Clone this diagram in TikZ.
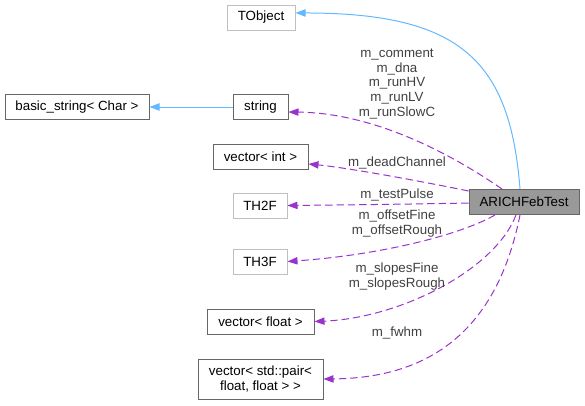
\documentclass[tikz,border=0pt]{standalone}
\usepackage{fontspec}
\setmainfont{Liberation Sans}
\usetikzlibrary{arrows.meta}
\definecolor{edgeblue}{HTML}{63B8FF}
\definecolor{edgepurple}{HTML}{9A32CD}
\definecolor{boxdark}{HTML}{666666}
\definecolor{boxlight}{HTML}{BFBFBF}
\definecolor{mainfill}{HTML}{999999}
\definecolor{labelgrey}{HTML}{404040}
\tikzset{
  box/.style={draw=boxdark, line width=0.75pt, fill=white, inner sep=0pt, minimum height=18.75pt, font=\fontsize{10}{11.5}\selectfont, align=center},
  lightbox/.style={box, draw=boxlight},
  mainbox/.style={box, fill=mainfill},
  inh/.style={draw=edgeblue, line width=0.75pt, -{Triangle[length=7.5pt,width=5.5pt]}},
  dep/.style={draw=edgepurple, line width=0.75pt, dash pattern=on 5.5pt off 3pt, -{Triangle[length=7.5pt,width=5.5pt]}},
  lbl/.style={text=labelgrey, inner sep=0pt, align=center, font=\fontsize{10}{10.9}\selectfont}
}
\begin{document}
\begin{tikzpicture}[x=0.75pt, y=-0.75pt]
\useasboundingbox (0,0) rectangle (585,405);
% nodes
\node[lightbox, minimum width=51pt] (tobj) at (261,17.5) {TObject};
\node[box, minimum width=108pt] (bstr) at (77,107) {basic\_string< Char >};
\node[box, minimum width=41.25pt] (str) at (260.5,107) {string};
\node[box, minimum width=71.25pt] (vint) at (260.5,156.5) {vector< int >};
\node[lightbox, minimum width=40.5pt] (th2) at (260,205.5) {TH2F};
\node[mainbox, minimum width=82.5pt] (main) at (524,202) {ARICHFebTest};
\node[lightbox, minimum width=40.5pt] (th3) at (260,261.5) {TH3F};
\node[box, minimum width=80.25pt] (vflt) at (260.5,321.5) {vector< float >};
\node[box, minimum width=93.75pt, minimum height=30pt] (vpair) at (260.5,379) {vector< std::pair<\\ float, float > >};
% inheritance
\draw[inh] ([xshift=-3pt]main.north) .. controls (510,60) and (460,13) .. ([yshift=3.4pt]tobj.east);
\draw[inh] (str.west) -- (bstr.east);
% members
\draw[dep] ([xshift=-16.5pt]main.north) .. controls (460,160) and (380,113) .. ([yshift=-3.75pt]str.east);
\draw[dep] ([yshift=8.25pt]main.west) .. controls (430,183) and (350,168) .. ([yshift=-5.6pt]vint.east);
\draw[dep] ([yshift=-0.75pt]main.west) .. controls (420,204) and (340,205) .. (th2.east);
\draw[dep] ([xshift=-21.75pt]main.south) .. controls (460,235) and (380,255) .. (th3.east);
\draw[dep] ([xshift=-6pt]main.south) .. controls (495,270) and (400,318) .. (vflt.east);
\draw[dep] ([xshift=-3pt]main.south) .. controls (495,340) and (420,378) .. (vpair.east);
% labels
\node[lbl] (l1) at (397,84) {m\_comment\\m\_dna\\m\_runHV\\m\_runLV\\m\_runSlowC};
\node[lbl] (l2) at (397,163) {m\_deadChannel};
\node[lbl] (l3) at (397,195) {m\_testPulse};
\node[lbl] (l4) at (397,223.5) {m\_offsetFine\\m\_offsetRough};
\node[lbl] (l5) at (397,276.5) {m\_slopesFine\\m\_slopesRough};
\node[lbl] (l6) at (397,333) {m\_fwhm};
\end{tikzpicture}
\end{document}
